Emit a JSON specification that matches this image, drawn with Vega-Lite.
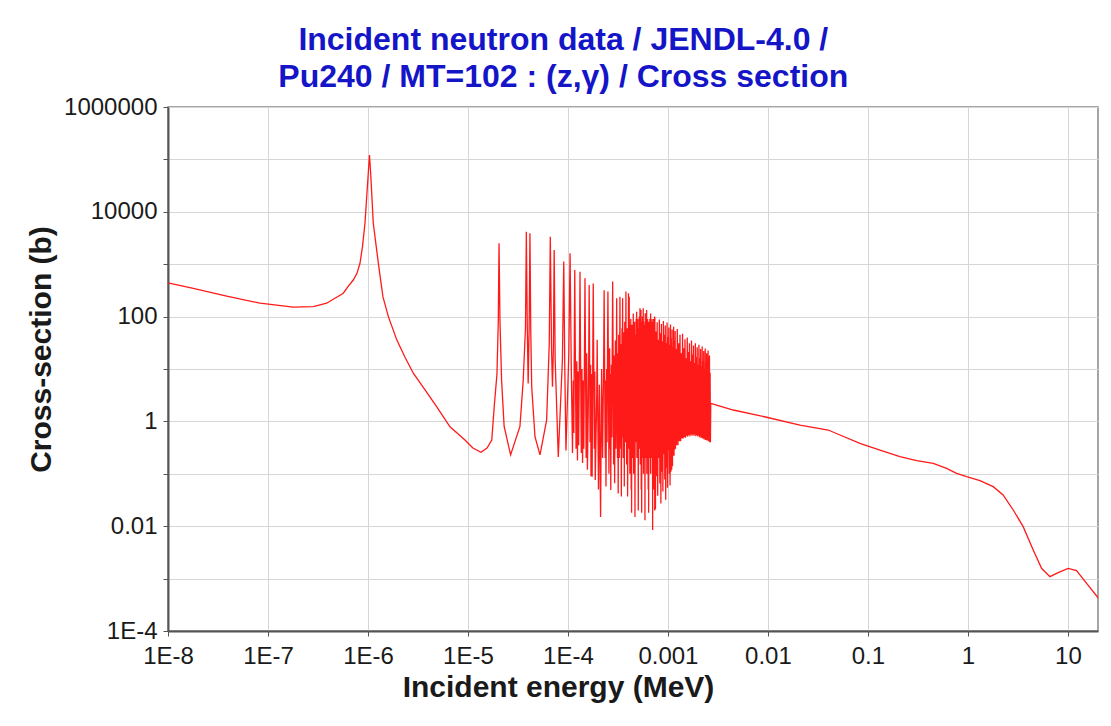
{
  "$schema": "https://vega.github.io/schema/vega-lite/v6.json",
  "autosize": {"type": "none"},
  "padding": {"left": 168, "top": 107, "right": 13, "bottom": 95},
  "width": 930,
  "height": 524,
  "background": "white",
  "title": {
    "text": ["Incident neutron data / JENDL-4.0 /", "Pu240 / MT=102 : (z,γ) / Cross section"],
    "color": "#1515c8",
    "font": "Liberation Sans",
    "fontSize": 32,
    "fontWeight": "bold",
    "lineHeight": 37,
    "anchor": "middle",
    "frame": "bounds",
    "offset": 1
  },
  "data": {
    "values": [
      {"e": 1e-8, "s": 438},
      {"e": 1.79e-8, "s": 347},
      {"e": 3.86e-8, "s": 247},
      {"e": 8.32e-8, "s": 180},
      {"e": 1.79e-7, "s": 151},
      {"e": 2.84e-7, "s": 155},
      {"e": 3.86e-7, "s": 180},
      {"e": 5.66e-7, "s": 279},
      {"e": 6.31e-7, "s": 372},
      {"e": 7.13e-7, "s": 499},
      {"e": 7.76e-7, "s": 670},
      {"e": 8.32e-7, "s": 1040},
      {"e": 8.81e-7, "s": 2160},
      {"e": 9.33e-7, "s": 6030},
      {"e": 1.007e-6, "s": 54300},
      {"e": 1.035e-6, "s": 121000},
      {"e": 1.064e-6, "s": 54300},
      {"e": 1.13e-6, "s": 6030},
      {"e": 1.27e-6, "s": 1040},
      {"e": 1.41e-6, "s": 240},
      {"e": 1.6e-6, "s": 100},
      {"e": 1.94e-6, "s": 36},
      {"e": 2.34e-6, "s": 17},
      {"e": 2.84e-6, "s": 8.3},
      {"e": 3.72e-6, "s": 4.0},
      {"e": 4.86e-6, "s": 1.91},
      {"e": 6.61e-6, "s": 0.79},
      {"e": 9.33e-6, "s": 0.44},
      {"e": 1.12e-5, "s": 0.31},
      {"e": 1.35e-5, "s": 0.257},
      {"e": 1.55e-5, "s": 0.31},
      {"e": 1.73e-5, "s": 0.44},
      {"e": 1.83e-5, "s": 1.91},
      {"e": 1.95e-5, "s": 8},
      {"e": 2.01e-5, "s": 80},
      {"e": 2.045e-5, "s": 2500},
      {"e": 2.09e-5, "s": 80},
      {"e": 2.17e-5, "s": 6},
      {"e": 2.3e-5, "s": 0.8},
      {"e": 2.67e-5, "s": 0.23},
      {"e": 3.31e-5, "s": 0.8},
      {"e": 3.57e-5, "s": 6.2},
      {"e": 3.76e-5, "s": 60},
      {"e": 3.835e-5, "s": 4170},
      {"e": 3.92e-5, "s": 60},
      {"e": 4.0e-5, "s": 5.3},
      {"e": 4.09e-5, "s": 60},
      {"e": 4.166e-5, "s": 3880},
      {"e": 4.25e-5, "s": 50},
      {"e": 4.34e-5, "s": 4.6},
      {"e": 4.68e-5, "s": 0.51},
      {"e": 5.25e-5, "s": 0.23},
      {"e": 6.12e-5, "s": 1.06},
      {"e": 6.5e-5, "s": 30},
      {"e": 6.66e-5, "s": 3350},
      {"e": 6.85e-5, "s": 25},
      {"e": 7.0e-5, "s": 4.6},
      {"e": 7.15e-5, "s": 25},
      {"e": 7.28e-5, "s": 1870},
      {"e": 7.45e-5, "s": 15},
      {"e": 8.0e-5, "s": 0.21},
      {"e": 8.8e-5, "s": 15},
      {"e": 9.08e-5, "s": 1120},
      {"e": 9.3e-5, "s": 10},
      {"e": 9.55e-5, "s": 0.28},
      {"e": 1.02e-4, "s": 20},
      {"e": 1.05e-4, "s": 1610},
      {"e": 1.08e-4, "s": 10},
      {"e": 1.11e-4, "s": 0.25},
      {"e": 1.13e-4, "s": 6},
      {"e": 1.145e-4, "s": 0.6},
      {"e": 1.158e-4, "s": 39},
      {"e": 1.17e-4, "s": 775},
      {"e": 1.182e-4, "s": 39},
      {"e": 1.205e-4, "s": 0.3},
      {"e": 1.225e-4, "s": 14},
      {"e": 1.245e-4, "s": 0.18},
      {"e": 1.26e-4, "s": 9},
      {"e": 1.28e-4, "s": 0.35},
      {"e": 1.307e-4, "s": 36},
      {"e": 1.32e-4, "s": 720},
      {"e": 1.333e-4, "s": 36},
      {"e": 1.36e-4, "s": 0.25},
      {"e": 1.38e-4, "s": 10},
      {"e": 1.4e-4, "s": 0.16},
      {"e": 1.42e-4, "s": 6},
      {"e": 1.44e-4, "s": 0.3},
      {"e": 1.465e-4, "s": 27},
      {"e": 1.48e-4, "s": 537},
      {"e": 1.495e-4, "s": 27},
      {"e": 1.52e-4, "s": 0.2},
      {"e": 1.54e-4, "s": 20},
      {"e": 1.565e-4, "s": 0.12},
      {"e": 1.595e-4, "s": 1.5},
      {"e": 1.614e-4, "s": 20},
      {"e": 1.63e-4, "s": 400},
      {"e": 1.646e-4, "s": 20},
      {"e": 1.665e-4, "s": 0.4},
      {"e": 1.685e-4, "s": 12},
      {"e": 1.7e-4, "s": 0.09},
      {"e": 1.72e-4, "s": 8},
      {"e": 1.745e-4, "s": 0.088},
      {"e": 1.772e-4, "s": 21},
      {"e": 1.79e-4, "s": 430},
      {"e": 1.808e-4, "s": 21},
      {"e": 1.835e-4, "s": 0.3},
      {"e": 1.855e-4, "s": 9},
      {"e": 1.875e-4, "s": 0.076},
      {"e": 1.94e-4, "s": 3},
      {"e": 1.96e-4, "s": 36},
      {"e": 1.98e-4, "s": 3},
      {"e": 2.02e-4, "s": 0.05},
      {"e": 2.06e-4, "s": 5},
      {"e": 2.12e-4, "s": 0.015},
      {"e": 2.17e-4, "s": 10},
      {"e": 2.22e-4, "s": 0.2},
      {"e": 2.277e-4, "s": 16},
      {"e": 2.3e-4, "s": 320},
      {"e": 2.323e-4, "s": 16},
      {"e": 2.36e-4, "s": 0.2},
      {"e": 2.38e-4, "s": 6},
      {"e": 2.4e-4, "s": 0.057},
      {"e": 2.44e-4, "s": 10},
      {"e": 2.46e-4, "s": 0.4},
      {"e": 2.485e-4, "s": 15},
      {"e": 2.51e-4, "s": 300},
      {"e": 2.535e-4, "s": 15},
      {"e": 2.57e-4, "s": 0.1},
      {"e": 2.61e-4, "s": 25},
      {"e": 2.645e-4, "s": 0.3},
      {"e": 2.665e-4, "s": 8},
      {"e": 2.68e-4, "s": 0.049},
      {"e": 2.72e-4, "s": 12},
      {"e": 2.75e-4, "s": 0.5},
      {"e": 2.772e-4, "s": 23},
      {"e": 2.8e-4, "s": 465},
      {"e": 2.828e-4, "s": 23},
      {"e": 2.86e-4, "s": 0.15},
      {"e": 2.9e-4, "s": 18},
      {"e": 2.93e-4, "s": 0.066},
      {"e": 2.98e-4, "s": 35},
      {"e": 3.02e-4, "s": 0.3},
      {"e": 3.05e-4, "s": 11},
      {"e": 3.07e-4, "s": 223},
      {"e": 3.09e-4, "s": 11},
      {"e": 3.13e-4, "s": 0.2},
      {"e": 3.15e-4, "s": 20},
      {"e": 3.18e-4, "s": 0.042},
      {"e": 3.22e-4, "s": 45},
      {"e": 3.26e-4, "s": 0.2},
      {"e": 3.29e-4, "s": 12},
      {"e": 3.31e-4, "s": 240},
      {"e": 3.33e-4, "s": 12},
      {"e": 3.37e-4, "s": 0.3},
      {"e": 3.39e-4, "s": 30},
      {"e": 3.42e-4, "s": 0.037},
      {"e": 3.47e-4, "s": 60},
      {"e": 3.49e-4, "s": 0.5},
      {"e": 3.5e-4, "s": 11},
      {"e": 3.52e-4, "s": 223},
      {"e": 3.54e-4, "s": 11},
      {"e": 3.57e-4, "s": 0.2},
      {"e": 3.6e-4, "s": 50},
      {"e": 3.63e-4, "s": 0.3},
      {"e": 3.645e-4, "s": 25},
      {"e": 3.66e-4, "s": 0.057},
      {"e": 3.7e-4, "s": 80},
      {"e": 3.74e-4, "s": 0.4},
      {"e": 3.78e-4, "s": 15},
      {"e": 3.8e-4, "s": 300},
      {"e": 3.82e-4, "s": 15},
      {"e": 3.86e-4, "s": 0.15},
      {"e": 3.88e-4, "s": 40},
      {"e": 3.91e-4, "s": 0.2},
      {"e": 3.93e-4, "s": 60},
      {"e": 3.95e-4, "s": 0.037},
      {"e": 4.01e-4, "s": 14},
      {"e": 4.03e-4, "s": 280},
      {"e": 4.05e-4, "s": 14},
      {"e": 4.07e-4, "s": 0.3},
      {"e": 4.085e-4, "s": 12},
      {"e": 4.1e-4, "s": 240},
      {"e": 4.115e-4, "s": 12},
      {"e": 4.16e-4, "s": 0.1},
      {"e": 4.19e-4, "s": 70},
      {"e": 4.22e-4, "s": 0.3},
      {"e": 4.25e-4, "s": 90},
      {"e": 4.29e-4, "s": 0.05},
      {"e": 4.3e-4, "s": 30},
      {"e": 4.33e-4, "s": 0.018},
      {"e": 4.37e-4, "s": 70},
      {"e": 4.41e-4, "s": 0.2},
      {"e": 4.45e-4, "s": 50},
      {"e": 4.47e-4, "s": 0.4},
      {"e": 4.5e-4, "s": 115},
      {"e": 4.54e-4, "s": 0.1},
      {"e": 4.57e-4, "s": 60},
      {"e": 4.61e-4, "s": 0.3},
      {"e": 4.64e-4, "s": 80},
      {"e": 4.68e-4, "s": 0.015},
      {"e": 4.72e-4, "s": 45},
      {"e": 4.76e-4, "s": 0.4},
      {"e": 4.81e-4, "s": 90},
      {"e": 4.83e-4, "s": 0.6},
      {"e": 4.86e-4, "s": 124},
      {"e": 4.9e-4, "s": 0.2},
      {"e": 4.93e-4, "s": 70},
      {"e": 4.97e-4, "s": 0.5},
      {"e": 5.0e-4, "s": 90},
      {"e": 5.05e-4, "s": 0.02},
      {"e": 5.09e-4, "s": 60},
      {"e": 5.13e-4, "s": 0.4},
      {"e": 5.17e-4, "s": 100},
      {"e": 5.21e-4, "s": 0.3},
      {"e": 5.25e-4, "s": 144},
      {"e": 5.29e-4, "s": 0.15},
      {"e": 5.33e-4, "s": 70},
      {"e": 5.35e-4, "s": 0.5},
      {"e": 5.37e-4, "s": 134},
      {"e": 5.41e-4, "s": 0.05},
      {"e": 5.44e-4, "s": 80},
      {"e": 5.46e-4, "s": 0.018},
      {"e": 5.5e-4, "s": 60},
      {"e": 5.53e-4, "s": 0.3},
      {"e": 5.56e-4, "s": 100},
      {"e": 5.6e-4, "s": 0.2},
      {"e": 5.63e-4, "s": 50},
      {"e": 5.645e-4, "s": 0.4},
      {"e": 5.66e-4, "s": 144},
      {"e": 5.69e-4, "s": 0.1},
      {"e": 5.72e-4, "s": 80},
      {"e": 5.75e-4, "s": 0.3},
      {"e": 5.78e-4, "s": 60},
      {"e": 5.81e-4, "s": 0.2},
      {"e": 5.85e-4, "s": 70},
      {"e": 5.89e-4, "s": 0.013},
      {"e": 5.93e-4, "s": 116},
      {"e": 5.96e-4, "s": 0.3},
      {"e": 5.99e-4, "s": 60},
      {"e": 6.02e-4, "s": 0.2},
      {"e": 6.06e-4, "s": 80},
      {"e": 6.09e-4, "s": 0.4},
      {"e": 6.12e-4, "s": 134},
      {"e": 6.15e-4, "s": 0.1},
      {"e": 6.19e-4, "s": 70},
      {"e": 6.22e-4, "s": 0.3},
      {"e": 6.26e-4, "s": 90},
      {"e": 6.29e-4, "s": 0.2},
      {"e": 6.33e-4, "s": 60},
      {"e": 6.35e-4, "s": 0.05},
      {"e": 6.37e-4, "s": 40},
      {"e": 6.41e-4, "s": 0.018},
      {"e": 6.45e-4, "s": 80},
      {"e": 6.48e-4, "s": 0.3},
      {"e": 6.52e-4, "s": 70},
      {"e": 6.55e-4, "s": 0.2},
      {"e": 6.59e-4, "s": 90},
      {"e": 6.62e-4, "s": 0.4},
      {"e": 6.66e-4, "s": 60},
      {"e": 6.69e-4, "s": 0.1},
      {"e": 6.71e-4, "s": 115},
      {"e": 6.75e-4, "s": 0.3},
      {"e": 6.79e-4, "s": 80},
      {"e": 6.83e-4, "s": 0.2},
      {"e": 6.87e-4, "s": 70},
      {"e": 6.9e-4, "s": 0.4},
      {"e": 6.94e-4, "s": 90},
      {"e": 6.98e-4, "s": 0.1},
      {"e": 7.0e-4, "s": 50},
      {"e": 7.03e-4, "s": 0.0085},
      {"e": 7.07e-4, "s": 80},
      {"e": 7.1e-4, "s": 0.3},
      {"e": 7.14e-4, "s": 70},
      {"e": 7.17e-4, "s": 0.05},
      {"e": 7.2e-4, "s": 90},
      {"e": 7.24e-4, "s": 0.2},
      {"e": 7.28e-4, "s": 60},
      {"e": 7.31e-4, "s": 0.1},
      {"e": 7.35e-4, "s": 100},
      {"e": 7.38e-4, "s": 0.02},
      {"e": 7.4e-4, "s": 95},
      {"e": 7.5e-4, "s": 0.021},
      {"e": 7.6e-4, "s": 52},
      {"e": 7.7e-4, "s": 0.09},
      {"e": 7.8e-4, "s": 78},
      {"e": 7.9e-4, "s": 0.038},
      {"e": 8.0e-4, "s": 36},
      {"e": 8.1e-4, "s": 0.2},
      {"e": 8.2e-4, "s": 88},
      {"e": 8.3e-4, "s": 0.065},
      {"e": 8.4e-4, "s": 48},
      {"e": 8.5e-4, "s": 0.027},
      {"e": 8.6e-4, "s": 72},
      {"e": 8.7e-4, "s": 0.11},
      {"e": 8.8e-4, "s": 34},
      {"e": 8.9e-4, "s": 0.046},
      {"e": 9.0e-4, "s": 82},
      {"e": 9.1e-4, "s": 0.24},
      {"e": 9.2e-4, "s": 45},
      {"e": 9.3e-4, "s": 0.078},
      {"e": 9.4e-4, "s": 68},
      {"e": 9.5e-4, "s": 0.032},
      {"e": 9.6e-4, "s": 31},
      {"e": 9.7e-4, "s": 0.13},
      {"e": 9.8e-4, "s": 77},
      {"e": 9.9e-4, "s": 0.054},
      {"e": 1.0e-3, "s": 41},
      {"e": 1.01e-3, "s": 0.28},
      {"e": 1.02e-3, "s": 62},
      {"e": 1.03e-3, "s": 0.1},
      {"e": 1.04e-3, "s": 29},
      {"e": 1.05e-3, "s": 0.06},
      {"e": 1.06e-3, "s": 71},
      {"e": 1.07e-3, "s": 0.11},
      {"e": 1.08e-3, "s": 38},
      {"e": 1.09e-3, "s": 0.12},
      {"e": 1.1e-3, "s": 57},
      {"e": 1.11e-3, "s": 0.14},
      {"e": 1.12e-3, "s": 26},
      {"e": 1.13e-3, "s": 0.22},
      {"e": 1.14e-3, "s": 64},
      {"e": 1.15e-3, "s": 0.22},
      {"e": 1.16e-3, "s": 35},
      {"e": 1.17e-3, "s": 0.29},
      {"e": 1.18e-3, "s": 53},
      {"e": 1.19e-3, "s": 0.3},
      {"e": 1.2e-3, "s": 24},
      {"e": 1.22e-3, "s": 0.35},
      {"e": 1.24e-3, "s": 58},
      {"e": 1.26e-3, "s": 0.35},
      {"e": 1.28e-3, "s": 31},
      {"e": 1.3e-3, "s": 0.42},
      {"e": 1.32e-3, "s": 45},
      {"e": 1.34e-3, "s": 0.42},
      {"e": 1.36e-3, "s": 20},
      {"e": 1.38e-3, "s": 0.47},
      {"e": 1.4e-3, "s": 47},
      {"e": 1.42e-3, "s": 0.47},
      {"e": 1.44e-3, "s": 25},
      {"e": 1.46e-3, "s": 0.5},
      {"e": 1.48e-3, "s": 37},
      {"e": 1.5e-3, "s": 0.49},
      {"e": 1.52e-3, "s": 16},
      {"e": 1.54e-3, "s": 0.53},
      {"e": 1.56e-3, "s": 40},
      {"e": 1.58e-3, "s": 0.51},
      {"e": 1.6e-3, "s": 21},
      {"e": 1.62e-3, "s": 0.55},
      {"e": 1.64e-3, "s": 31},
      {"e": 1.66e-3, "s": 0.52},
      {"e": 1.68e-3, "s": 14},
      {"e": 1.7e-3, "s": 0.56},
      {"e": 1.72e-3, "s": 35},
      {"e": 1.74e-3, "s": 0.53},
      {"e": 1.76e-3, "s": 19},
      {"e": 1.78e-3, "s": 0.56},
      {"e": 1.8e-3, "s": 28},
      {"e": 1.82e-3, "s": 0.53},
      {"e": 1.84e-3, "s": 13},
      {"e": 1.86e-3, "s": 0.56},
      {"e": 1.88e-3, "s": 31},
      {"e": 1.9e-3, "s": 0.52},
      {"e": 1.92e-3, "s": 17},
      {"e": 1.94e-3, "s": 0.55},
      {"e": 1.96e-3, "s": 26},
      {"e": 1.98e-3, "s": 0.52},
      {"e": 2.0e-3, "s": 12},
      {"e": 2.02e-3, "s": 0.54},
      {"e": 2.04e-3, "s": 29},
      {"e": 2.06e-3, "s": 0.5},
      {"e": 2.08e-3, "s": 16},
      {"e": 2.1e-3, "s": 0.52},
      {"e": 2.12e-3, "s": 24},
      {"e": 2.14e-3, "s": 0.48},
      {"e": 2.16e-3, "s": 11},
      {"e": 2.18e-3, "s": 0.5},
      {"e": 2.2e-3, "s": 27},
      {"e": 2.22e-3, "s": 0.47},
      {"e": 2.24e-3, "s": 14},
      {"e": 2.26e-3, "s": 0.48},
      {"e": 2.28e-3, "s": 22},
      {"e": 2.3e-3, "s": 0.45},
      {"e": 2.32e-3, "s": 10},
      {"e": 2.34e-3, "s": 0.47},
      {"e": 2.36e-3, "s": 24.5},
      {"e": 2.38e-3, "s": 0.44},
      {"e": 2.4e-3, "s": 13},
      {"e": 2.42e-3, "s": 0.45},
      {"e": 2.44e-3, "s": 20},
      {"e": 2.46e-3, "s": 0.43},
      {"e": 2.48e-3, "s": 9},
      {"e": 2.5e-3, "s": 0.44},
      {"e": 2.52e-3, "s": 22.5},
      {"e": 2.54e-3, "s": 0.42},
      {"e": 2.56e-3, "s": 12},
      {"e": 2.58e-3, "s": 0.43},
      {"e": 2.6e-3, "s": 18},
      {"e": 2.62e-3, "s": 0.4},
      {"e": 2.64e-3, "s": 8.5},
      {"e": 2.66e-3, "s": 0.4},
      {"e": 2.68e-3, "s": 2.2},
      {"e": 4.5e-3, "s": 1.65},
      {"e": 9.7e-3, "s": 1.2},
      {"e": 0.0209, "s": 0.853},
      {"e": 0.0401, "s": 0.685},
      {"e": 0.0525, "s": 0.55},
      {"e": 0.0832, "s": 0.381},
      {"e": 0.132, "s": 0.284},
      {"e": 0.209, "s": 0.212},
      {"e": 0.307, "s": 0.178},
      {"e": 0.45, "s": 0.158},
      {"e": 0.612, "s": 0.127},
      {"e": 0.771, "s": 0.102},
      {"e": 0.97, "s": 0.088},
      {"e": 1.32, "s": 0.074},
      {"e": 1.79, "s": 0.0568},
      {"e": 2.25, "s": 0.0394},
      {"e": 2.84, "s": 0.0204},
      {"e": 3.57, "s": 0.0098},
      {"e": 4.5, "s": 0.00351},
      {"e": 5.45, "s": 0.00157},
      {"e": 6.61, "s": 0.00109},
      {"e": 8.0, "s": 0.0013},
      {"e": 10.07, "s": 0.00157},
      {"e": 12.2, "s": 0.00142},
      {"e": 15.4, "s": 0.00081},
      {"e": 19.4, "s": 0.000466},
      {"e": 20, "s": 0.00043}
    ]
  },
  "mark": {"type": "line", "stroke": "#ff1a1a", "strokeWidth": 1.3, "interpolate": "linear"},
  "encoding": {
    "x": {
      "field": "e",
      "type": "quantitative",
      "scale": {"type": "log", "domain": [1e-8, 20], "nice": false},
      "axis": {
        "title": "Incident energy (MeV)",
        "values": [1e-8, 1e-7, 1e-6, 1e-5, 1e-4, 0.001, 0.01, 0.1, 1, 10],
        "labelExpr": "datum.value < 0.0005 ? '1E-' + round(-log(datum.value) / LN10) : '' + datum.value",
        "labelFontSize": 24,
        "labelPadding": 8,
        "labelFlush": false,
        "labelOverlap": false,
        "titleX": 390,
        "titleY": 65,
        "titleBaseline": "alphabetic",
        "titleFontSize": 30
      }
    },
    "y": {
      "field": "s",
      "type": "quantitative",
      "scale": {"type": "log", "domain": [0.0001, 1000000], "nice": false},
      "axis": {
        "title": "Cross-section (b)",
        "values": [0.0001, 0.001, 0.01, 0.1, 1, 10, 100, 1000, 10000, 100000, 1000000],
        "labelExpr": "round(log(datum.value) / LN10) % 2 != 0 ? '' : (datum.value < 0.005 ? '1E-' + round(-log(datum.value) / LN10) : '' + datum.value)",
        "labelFontSize": 24,
        "labelPadding": 6,
        "labelFlush": false,
        "labelOverlap": false,
        "titleX": -118,
        "titleY": 242,
        "titleAngle": -90,
        "titleAlign": "center",
        "titleBaseline": "alphabetic",
        "titleFontSize": 30
      }
    }
  },
  "config": {
    "font": "Liberation Sans",
    "view": {"stroke": "#888888", "strokeWidth": 1.5},
    "axis": {
      "grid": true,
      "gridColor": "#d6d6d6",
      "gridWidth": 1,
      "domainColor": "#555555",
      "domainWidth": 2,
      "tickColor": "#555555",
      "tickSize": 5,
      "tickWidth": 1,
      "labelColor": "#1a1a1a",
      "labelFont": "Liberation Sans",
      "titleFont": "Liberation Sans",
      "titleFontWeight": "bold",
      "titleColor": "#1a1a1a"
    }
  }
}
